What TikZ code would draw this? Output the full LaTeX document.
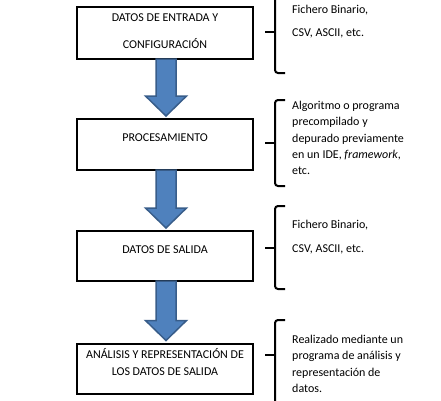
\documentclass[tikz,border=0pt]{standalone}
\usepackage{fontspec}
\setmainfont{Carlito}
\usetikzlibrary{calc}
\definecolor{arrowfill}{HTML}{4F81BD}
\definecolor{arrowline}{HTML}{385D8A}
\tikzset{
  box/.style={draw=black, line width=2pt, minimum width=176pt, inner sep=0pt, fill=white},
  boxtext/.style={font=\fontsize{12}{17}\selectfont, align=center, inner sep=0pt},
  sidetext/.style={font=\fontsize{12}{16.3}\selectfont, align=left, anchor=west, inner sep=0pt},
  bracket/.style={draw=black, line width=2pt, rounded corners=3pt},
  tick/.style={draw=black, line width=2pt},
  barrow/.style={fill=arrowfill, draw=arrowline, line width=1.5pt, line join=miter}
}
\newcommand{\blockarrow}[2]{%
  \draw[barrow] let \p1=($(#1.south)+(1,-1)$), \p2=($(#2.north)+(1,-2)$) in
    (\x1-10pt,\y1) -- (\x1-10pt,\y2+20pt) -- (\x1-20.5pt,\y2+20pt) -- (\x1,\y2)
    -- (\x1+20.5pt,\y2+20pt) -- (\x1+10pt,\y2+20pt) -- (\x1+10pt,\y1) -- cycle;}
\begin{document}
\begin{tikzpicture}[x=1pt, y=-1pt]
\useasboundingbox[fill=white] (0,0) rectangle (441,400);
% boxes
\node[box, minimum height=52pt] (b1) at (165,33) {};
\node[box, minimum height=51pt] (b2) at (165,144.5) {};
\node[box, minimum height=50pt] (b3) at (165,256) {};
\node[box, minimum height=50pt] (b4) at (165,368.5) {};
% box texts
\node[boxtext] (t1a) at ($(b1.center)+(0,-15)$) {DATOS DE ENTRADA Y};
\node[boxtext] (t1b) at ($(b1.center)+(0,11)$) {CONFIGURACIÓN};
\node[boxtext] (t2) at ($(b2.center)+(0,-6.5)$) {PROCESAMIENTO};
\node[boxtext] (t3) at ($(b3.center)+(0,-6)$) {DATOS DE SALIDA};
\node[boxtext] (t4) at ($(b4.center)+(0,-6)$) {ANÁLISIS Y REPRESENTACIÓN DE\\LOS DATOS DE SALIDA};
% arrows
\blockarrow{b1}{b2}
\blockarrow{b2}{b3}
\blockarrow{b3}{b4}
% brackets
\draw[bracket] (285,-10) -- (275,-10) -- (275,73) -- (285,73);
\draw[tick] (275,32) -- (265,32);
\draw[bracket] (285,100) -- (275,100) -- (275,186) -- (285,186);
\draw[tick] (275,143) -- (265,143);
\draw[bracket] (285,206) -- (275,206) -- (275,289) -- (285,289);
\draw[tick] (275,248) -- (265,248);
\draw[bracket] (285,320) -- (275,320) -- (275,410) -- (285,410);
\draw[tick] (275,355) -- (265,355);
% side texts
\node[sidetext] (s1a) at (292,10) {Fichero Binario,};
\node[sidetext] (s1b) at (292,33) {CSV, ASCII, etc.};
\node[sidetext, anchor=north west] (s2) at (292,101) {Algoritmo o programa\\precompilado y\\depurado previamente\\en un IDE, \textit{framework},\\etc.};
\node[sidetext] (s3a) at (292,225) {Fichero Binario,};
\node[sidetext] (s3b) at (292,249) {CSV, ASCII, etc.};
\node[sidetext, anchor=north west] (s4) at (292,335) {Realizado mediante un\\programa de análisis y\\representación de\\datos.};
\end{tikzpicture}
\end{document}
